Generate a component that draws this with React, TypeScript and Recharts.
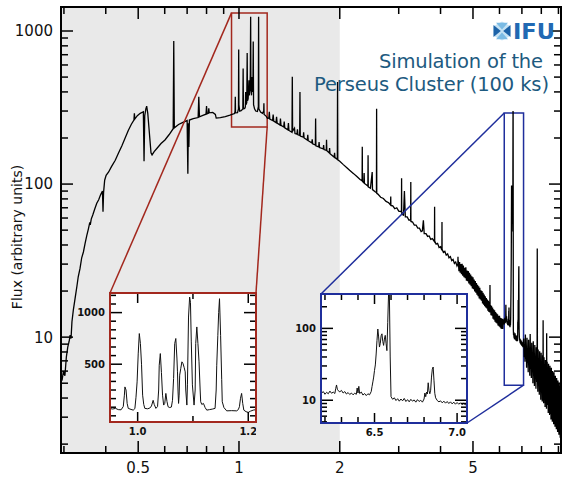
import React from 'react';
import { LineChart, Line, XAxis, YAxis, ReferenceArea, ReferenceLine } from 'recharts';

// main spectrum, [energy keV, flux]
const softBand: [number, number][] = [
  [0.296, 5.2], [0.299, 6.0], [0.302, 5.6], [0.305, 7.4], [0.308, 8.6], [0.311, 9.4], [0.313, 10.3],
  [0.315, 9.8], [0.317, 12.6], [0.32, 15], [0.324, 18], [0.328, 21.5], [0.331, 24.8], [0.335, 28],
  [0.339, 33], [0.343, 36], [0.347, 41], [0.351, 46], [0.355, 51], [0.358, 55.5], [0.36, 55],
  [0.362, 59], [0.366, 63], [0.371, 69], [0.376, 75], [0.381, 79], [0.386, 85], [0.391, 90],
  [0.3925, 66], [0.394, 88], [0.397, 106], [0.401, 114], [0.408, 120], [0.416, 130], [0.427, 143],
  [0.437, 160], [0.447, 178], [0.457, 200], [0.467, 224], [0.477, 246], [0.4855, 262], [0.487, 290],
  [0.4885, 266], [0.497, 280], [0.507, 290], [0.518, 297], [0.5205, 141], [0.523, 280], [0.527, 310],
  [0.53, 323], [0.534, 290], [0.54, 215], [0.546, 160], [0.55, 155], [0.558, 163], [0.57, 172],
  [0.585, 184], [0.601, 194], [0.618, 210], [0.636, 230], [0.6385, 862], [0.641, 233], [0.66, 245],
  [0.68, 253], [0.7, 260], [0.7035, 117], [0.706, 250], [0.7085, 175], [0.711, 262], [0.73, 268],
  [0.755, 272], [0.7585, 372], [0.762, 275], [0.78, 281], [0.797, 286], [0.8, 323], [0.803, 288],
  [0.81, 290], [0.8125, 313], [0.815, 292], [0.835, 294], [0.85, 285], [0.855, 270], [0.88, 272],
  [0.91, 276], [0.94, 282],
];

const feLBand: [number, number][] = [
  [0.953, 285], [0.97, 289], [0.9735, 300], [0.975, 372], [0.9765, 292], [0.99, 293], [0.9965, 310],
  [0.998, 758], [0.9995, 330], [1.005, 300], [1.015, 302], [1.027, 310], [1.029, 569], [1.031, 310],
  [1.04, 312], [1.045, 320], [1.047, 400], [1.049, 330], [1.055, 340], [1.058, 717], [1.0605, 350],
  [1.065, 360], [1.0685, 420], [1.071, 477], [1.073, 380], [1.078, 420], [1.081, 520], [1.0835, 1240],
  [1.0855, 420], [1.09, 380], [1.0935, 500], [1.096, 440], [1.1005, 400], [1.103, 853], [1.1055, 330],
  [1.113, 310], [1.122, 300], [1.135, 298], [1.1425, 320], [1.1445, 1240], [1.1465, 310], [1.16, 295],
  [1.175, 290], [1.1855, 300], [1.187, 337], [1.1885, 285], [1.205, 278], [1.215, 270],
];

const midBand: [number, number][] = [
  [1.22, 268], [1.228, 270], [1.232, 297], [1.236, 266], [1.26, 260], [1.265, 285], [1.27, 258],
  [1.29, 252], [1.295, 275], [1.3, 250], [1.326, 243], [1.33, 268], [1.335, 242], [1.36, 236],
  [1.365, 256], [1.37, 233], [1.4, 226], [1.405, 250], [1.41, 224], [1.44, 218], [1.443, 503],
  [1.446, 222], [1.465, 232], [1.47, 214], [1.49, 212], [1.495, 228], [1.5, 210], [1.518, 208],
  [1.521, 400], [1.524, 206], [1.556, 203], [1.56, 218], [1.565, 200], [1.6, 194], [1.605, 210],
  [1.61, 192], [1.65, 186], [1.655, 196], [1.66, 183], [1.691, 180], [1.694, 268], [1.697, 178],
  [1.73, 175], [1.735, 188], [1.74, 173], [1.785, 170], [1.79, 180], [1.795, 168], [1.823, 166],
  [1.826, 195], [1.83, 165], [1.86, 160], [1.865, 172], [1.87, 158], [1.925, 150], [1.93, 160],
  [1.935, 149], [1.967, 145], [1.97, 465], [1.973, 144], [2.0, 141], [2.05, 134], [2.1, 128],
  [2.14, 123], [2.2, 117], [2.25, 112], [2.3, 107], [2.332, 105], [2.335, 175], [2.338, 104],
  [2.36, 102], [2.365, 118], [2.37, 101], [2.4, 99], [2.427, 97], [2.43, 154], [2.433, 96],
  [2.47, 94], [2.5, 120], [2.505, 92], [2.55, 89], [2.574, 88], [2.577, 311], [2.58, 87],
  [2.6, 86], [2.65, 82], [2.7, 80.5], [2.75, 77], [2.8, 75.5], [2.837, 73], [2.84, 83], [2.843, 72.5],
  [2.88, 72], [2.92, 69], [2.96, 70], [3.0, 66.5], [3.057, 66], [3.06, 109], [3.063, 64], [3.08, 64.5],
  [3.1, 62], [3.12, 90], [3.14, 61], [3.18, 61], [3.22, 58], [3.257, 58.5], [3.26, 103], [3.263, 57],
  [3.3, 56.5], [3.34, 54], [3.38, 54], [3.42, 51.5], [3.46, 51.5], [3.5, 49], [3.53, 49.5],
  [3.555, 58], [3.575, 47.5], [3.62, 47.5], [3.66, 45.5], [3.7, 45.8], [3.74, 43.5], [3.78, 44],
  [3.837, 42], [3.84, 71], [3.843, 42.5], [3.88, 40.5], [3.92, 41], [3.96, 38.5], [4.0, 39],
  [4.037, 37], [4.04, 56.6], [4.043, 37.5], [4.08, 35.8], [4.12, 36.4], [4.16, 34.3], [4.2, 35],
  [4.24, 33], [4.28, 33.6], [4.32, 31.6], [4.36, 32.2], [4.4, 30.3], [4.44, 31], [4.48, 29.2],
  [4.507, 30], [4.51, 33.5], [4.513, 29.5],
  [4.52, 31.6], [4.54, 27.0], [4.56, 31.0], [4.58, 26.4], [4.6, 30.0], [4.62, 25.8], [4.64, 30.2],
  [4.66, 25.2], [4.68, 29.4], [4.7, 24.6], [4.72, 28.4], [4.74, 24.3], [4.76, 28.6], [4.78, 23.4],
  [4.8, 27.2], [4.82, 23.2], [4.84, 27.0], [4.86, 22.4], [4.88, 26.3], [4.9, 22.0], [4.92, 25.6],
  [4.94, 21.5], [4.96, 25.0], [4.98, 20.8], [5.0, 24.6], [5.02, 20.6], [5.04, 23.8], [5.06, 19.9],
  [5.08, 23.3], [5.1, 19.5], [5.12, 22.6], [5.14, 18.9], [5.16, 22.0], [5.18, 18.5], [5.2, 21.5],
  [5.22, 17.9], [5.24, 21.0], [5.26, 17.6], [5.28, 20.2], [5.3, 17.3], [5.32, 20.0], [5.34, 16.6],
  [5.36, 19.5], [5.38, 16.3], [5.4, 19.0], [5.42, 15.9], [5.44, 18.5], [5.46, 15.6], [5.48, 18.0],
  [5.5, 15.4], [5.52, 17.6], [5.54, 14.9], [5.56, 17.3], [5.58, 14.6], [5.6, 16.9], [5.615, 14.5],
  [5.62, 21.9], [5.625, 15.0], [5.64, 16.2], [5.66, 13.9], [5.68, 16.0], [5.7, 13.8], [5.72, 15.6],
  [5.74, 13.2], [5.76, 15.2], [5.78, 13.0], [5.8, 15.0], [5.82, 12.6], [5.84, 14.6], [5.86, 12.4],
  [5.88, 14.3], [5.9, 12.3], [5.92, 14.1], [5.94, 11.9], [5.96, 13.8], [5.98, 11.8], [6.0, 13.8],
  [6.02, 11.6], [6.04, 13.4], [6.06, 11.4], [6.08, 13.3], [6.1, 11.3], [6.12, 13.2], [6.14, 11.3],
  [6.16, 13.0],
];

// Fe K region, also drawn in the blue inset
const feKBand: [number, number][] = [
  [6.18, 12.6], [6.19, 13.2], [6.2, 12.1], [6.21, 12.9], [6.22, 12.3], [6.23, 13.4], [6.24, 12.5],
  [6.25, 13.0], [6.26, 12.4], [6.265, 14.5], [6.27, 16.3], [6.275, 14.2], [6.28, 13.6], [6.29, 13.1],
  [6.3, 13.7], [6.31, 12.6], [6.32, 13.2], [6.33, 12.2], [6.34, 12.8], [6.35, 12.0], [6.36, 12.6],
  [6.37, 11.9], [6.38, 12.5], [6.39, 12.1], [6.395, 14.8], [6.4, 12.6], [6.405, 15.6], [6.41, 12.4],
  [6.42, 13.0], [6.43, 11.8], [6.44, 12.4], [6.45, 11.6], [6.46, 12.3], [6.47, 11.9], [6.48, 13.2],
  [6.485, 15.5], [6.49, 18], [6.495, 21], [6.5, 26], [6.505, 31], [6.51, 44], [6.515, 68], [6.52, 98],
  [6.525, 76], [6.53, 55], [6.535, 62], [6.54, 79], [6.545, 84], [6.55, 66], [6.555, 58], [6.56, 71],
  [6.565, 80], [6.57, 62], [6.575, 49], [6.58, 120], [6.585, 300], [6.59, 295], [6.595, 40],
  [6.6, 11.2], [6.61, 10.3], [6.62, 10.8], [6.63, 9.9], [6.64, 10.5], [6.65, 9.7], [6.66, 10.4],
  [6.67, 9.8], [6.68, 10.6], [6.69, 9.6], [6.7, 10.2], [6.71, 9.5], [6.72, 10.3], [6.73, 9.7],
  [6.74, 10.1], [6.75, 9.4], [6.76, 10.2], [6.77, 9.6], [6.78, 10.0], [6.79, 9.4], [6.8, 10.4],
  [6.805, 12.6], [6.81, 11.2], [6.815, 13.0], [6.82, 12.2], [6.825, 17.5], [6.83, 13.5], [6.835, 12.3],
  [6.84, 13.8], [6.845, 21], [6.85, 27], [6.855, 29], [6.86, 19], [6.865, 12.5], [6.87, 10.8],
  [6.88, 9.9], [6.89, 9.5], [6.9, 9.8], [6.91, 9.2], [6.92, 9.7], [6.93, 9.1], [6.94, 9.6],
  [6.95, 9.0], [6.96, 9.5], [6.97, 8.9], [6.98, 9.4], [6.99, 8.8], [7.0, 9.3], [7.01, 8.8],
  [7.02, 9.2], [7.03, 8.7], [7.04, 9.1], [7.05, 8.6], [7.06, 9.0],
];

const tailBand: [number, number][] = [
  [7.09, 9.8], [7.11, 7.4], [7.13, 9.0], [7.15, 6.9], [7.17, 10.4], [7.19, 7.2], [7.21, 8.6],
  [7.23, 6.3], [7.25, 9.9], [7.27, 6.8], [7.29, 8.4], [7.31, 5.9], [7.33, 9.6], [7.35, 6.6],
  [7.37, 8.1], [7.39, 5.6], [7.41, 10.5], [7.43, 6.2], [7.45, 8.3], [7.47, 5.4], [7.49, 9.2],
  [7.51, 5.9], [7.53, 7.8], [7.55, 5.0], [7.57, 9.4], [7.59, 5.6], [7.61, 7.6], [7.63, 4.8],
  [7.65, 8.9], [7.67, 5.3], [7.69, 7.3], [7.71, 4.6], [7.73, 8.6], [7.75, 5.1], [7.77, 6.2],
  [7.78, 38], [7.79, 5.8], [7.81, 4.4], [7.83, 8.3], [7.85, 5.0], [7.87, 6.9], [7.89, 4.2],
  [7.91, 8.1], [7.93, 4.7], [7.95, 6.6], [7.97, 3.9], [7.99, 7.9], [8.01, 4.5], [8.03, 6.4],
  [8.05, 3.8], [8.07, 7.6], [8.09, 4.3], [8.1, 12.9], [8.11, 4.6], [8.13, 3.7], [8.15, 7.4],
  [8.17, 4.1], [8.19, 6.0], [8.21, 3.5], [8.23, 7.1], [8.25, 3.9], [8.27, 5.8], [8.29, 3.4],
  [8.3, 10.6], [8.31, 3.6], [8.33, 6.9], [8.35, 3.8], [8.37, 5.6], [8.39, 3.2], [8.41, 6.7],
  [8.43, 3.6], [8.45, 5.4], [8.47, 3.1], [8.49, 6.5], [8.51, 3.5], [8.53, 5.2], [8.55, 2.9],
  [8.57, 6.3], [8.59, 3.3], [8.61, 5.0], [8.63, 2.8], [8.65, 6.0], [8.67, 3.2], [8.69, 4.8],
  [8.71, 2.7], [8.73, 5.9], [8.75, 3.0], [8.77, 4.7], [8.79, 2.6], [8.81, 5.6], [8.83, 2.9],
  [8.85, 4.5], [8.87, 2.5], [8.89, 5.4], [8.91, 2.8], [8.93, 4.3], [8.95, 2.4], [8.97, 5.2],
  [8.99, 2.7], [9.01, 4.2], [9.03, 2.3], [9.05, 5.0], [9.07, 2.6], [9.09, 4.0], [9.11, 2.2],
  [9.13, 4.8], [9.15, 2.5], [9.16, 3.6],
];

// Fe L inset (counts, linear)
const feLInset: [number, number][] = [
  [0.95, 70], [0.955, 66], [0.96, 72], [0.965, 60], [0.97, 58], [0.974, 90], [0.976, 200], [0.977, 280],
  [0.979, 250], [0.981, 120], [0.983, 72], [0.988, 62], [0.992, 55], [0.995, 70], [0.997, 180],
  [0.999, 329], [1.001, 600], [1.003, 797], [1.005, 700], [1.007, 500], [1.009, 200], [1.011, 110],
  [1.013, 72], [1.018, 68], [1.022, 75], [1.025, 95], [1.028, 150], [1.03, 110], [1.033, 72],
  [1.036, 90], [1.038, 250], [1.039, 490], [1.041, 603], [1.043, 420], [1.045, 200], [1.047, 104],
  [1.049, 120], [1.051, 217], [1.053, 140], [1.055, 88], [1.058, 80], [1.061, 85], [1.063, 150],
  [1.065, 362], [1.067, 700], [1.069, 749], [1.071, 560], [1.072, 426], [1.073, 240], [1.074, 120],
  [1.075, 200], [1.076, 394], [1.078, 460], [1.08, 523], [1.082, 506], [1.084, 470], [1.086, 426],
  [1.087, 250], [1.089, 104], [1.09, 300], [1.092, 957], [1.094, 1151], [1.0955, 1100], [1.097, 716],
  [1.099, 300], [1.102, 104], [1.104, 250], [1.105, 700], [1.107, 861], [1.109, 700], [1.111, 523],
  [1.113, 250], [1.114, 136], [1.116, 110], [1.119, 120], [1.122, 80], [1.125, 55], [1.13, 60],
  [1.135, 65], [1.14, 72], [1.142, 250], [1.143, 490], [1.145, 780], [1.1465, 1000], [1.148, 1135],
  [1.15, 780], [1.152, 350], [1.153, 136], [1.156, 80], [1.161, 48], [1.17, 50], [1.179, 48],
  [1.182, 60], [1.184, 88], [1.186, 170], [1.188, 217], [1.19, 120], [1.192, 55], [1.196, 40],
  [1.2, 33], [1.204, 45], [1.209, 55], [1.214, 60],
];

const mainXTicks = [0.3, 0.4, 0.5, 0.6, 0.7, 0.8, 0.9, 1, 2, 3, 4, 5, 6, 7, 8, 9];
const mainXLabels = [0.5, 1, 2, 5];
const mainYTicks = [2, 3, 4, 5, 6, 7, 8, 9, 10, 20, 30, 40, 50, 60, 70, 80, 90, 100, 200, 300, 400, 500, 600, 700, 800, 900, 1000];
const mainYLabels = [10, 100, 1000];

const feLXTicks = [1.0, 1.1, 1.2];
const feLXLabels = [1.0, 1.2];
const feLYTicks = [0, 83.3, 166.7, 250, 333.3, 416.7, 500, 583.3, 666.7, 750, 833.3, 916.7, 1000, 1083.3, 1166.7];
const feLYLabels = [500, 1000];

const feKXTicks = [6.2, 6.3, 6.4, 6.5, 6.6, 6.7, 6.8, 6.9, 7.0];
const feKXLabels = [6.5, 7.0];
const feKYTicks = [5, 6, 7, 8, 9, 10, 20, 30, 40, 50, 60, 70, 80, 90, 100, 200, 300];
const feKYLabels = [10, 100];

const X_DOMAIN: [number, number] = [0.294, 9.16];
const Y_DOMAIN: [number, number] = [1.75, 1435];
const FEL_X: [number, number] = [0.95, 1.214];
const FEL_Y: [number, number] = [-60, 1190];
const FEK_X: [number, number] = [6.176, 7.06];
const FEK_Y: [number, number] = [4.82, 301];

const PLOT = { left: 61, top: 7, width: 500, height: 446 };
const RED_INSET = { left: 110, top: 293, width: 146, height: 129 };
const BLUE_INSET = { left: 321, top: 294, width: 146, height: 129 };

const RED = '#a3281e';
const BLUE = '#1f2e9c';
const FONT = 'DejaVu Sans';

const lg = Math.log10;
const pxToEnergy = (px: number) =>
  10 ** (lg(X_DOMAIN[0]) + ((px - PLOT.left) / PLOT.width) * (lg(X_DOMAIN[1]) - lg(X_DOMAIN[0])));
const pxToFlux = (py: number) =>
  10 ** (lg(Y_DOMAIN[0]) + ((PLOT.top + PLOT.height - py) / PLOT.height) * (lg(Y_DOMAIN[1]) - lg(Y_DOMAIN[0])));

const toRows = (pts: [number, number][]) => pts.map(([energy, flux]) => ({ energy, flux }));
const mainData = toRows([...softBand, ...feLBand, ...midBand, ...feKBand, ...tailBand]);

const has = (list: number[], v: number) => list.some((m) => Math.abs(m - v) < 1e-6);

interface TickOpts {
  labels: number[];
  majors: number[];
  span: number;
  majorLen: number;
  minorLen: number;
  fmt: (v: number) => string;
  fontSize: number;
  bold?: boolean;
  gap: number;
}

function bottomTick(o: TickOpts) {
  return (props: any) => {
    const { x, y, payload } = props;
    const v = payload.value;
    const len = has(o.majors, v) ? o.majorLen : o.minorLen;
    return (
      <g>
        <line x1={x} y1={y} x2={x} y2={y - len} stroke="#000" strokeWidth={1.5} />
        <line x1={x} y1={y - o.span} x2={x} y2={y - o.span + len} stroke="#000" strokeWidth={1.5} />
        {has(o.labels, v) && (
          <text x={x} y={y + o.gap} textAnchor="middle" fontFamily={FONT} fontSize={o.fontSize}
            fontWeight={o.bold ? 'bold' : 'normal'} fill="#111">
            {o.fmt(v)}
          </text>
        )}
      </g>
    );
  };
}

function leftTick(o: TickOpts) {
  return (props: any) => {
    const { x, y, payload } = props;
    const v = payload.value;
    const len = has(o.majors, v) ? o.majorLen : o.minorLen;
    return (
      <g>
        <line x1={x} y1={y} x2={x + len} y2={y} stroke="#000" strokeWidth={1.5} />
        <line x1={x + o.span} y1={y} x2={x + o.span - len} y2={y} stroke="#000" strokeWidth={1.5} />
        {has(o.labels, v) && (
          <text x={x - o.gap} y={y} dy="0.36em" textAnchor="end" fontFamily={FONT} fontSize={o.fontSize}
            fontWeight={o.bold ? 'bold' : 'normal'} fill="#111">
            {o.fmt(v)}
          </text>
        )}
      </g>
    );
  };
}

function Frame({ box, color, w }: { box: { left: number; top: number; width: number; height: number }; color: string; w: number }) {
  return (
    <div
      style={{
        position: 'absolute',
        left: box.left - w / 2,
        top: box.top - w / 2,
        width: box.width + w,
        height: box.height + w,
        border: `${w}px solid ${color}`,
        boxSizing: 'border-box',
        pointerEvents: 'none',
      }}
    />
  );
}

function Inset({ box, data, xDomain, yDomain, logY, xTicks, xLabels, yTicks, yLabels, yMajors }: any) {
  const padL = 45;
  const padB = 18;
  return (
    <>
      <div style={{ position: 'absolute', left: box.left, top: box.top, width: box.width, height: box.height, background: '#fff' }} />
      <div style={{ position: 'absolute', left: box.left - padL, top: box.top }}>
        <LineChart width={box.width + padL} height={box.height + padB} data={toRows(data)}
          margin={{ top: 0, right: 0, bottom: 0, left: 0 }}>
          <XAxis dataKey="energy" type="number" domain={xDomain} allowDataOverflow ticks={xTicks} interval={0}
            height={padB} axisLine={false} tickLine={false} tickSize={0} tickMargin={0}
            tick={bottomTick({ labels: xLabels, majors: xLabels, span: box.height, majorLen: 10, minorLen: 6,
              fmt: (v) => v.toFixed(1), fontSize: 10, bold: true, gap: 13 })} />
          <YAxis type="number" scale={logY ? 'log' : 'linear'} domain={yDomain} allowDataOverflow ticks={yTicks}
            interval={0} width={padL} axisLine={false} tickLine={false} tickSize={0} tickMargin={0}
            tick={leftTick({ labels: yLabels, majors: yMajors, span: box.width, majorLen: 12, minorLen: 6,
              fmt: (v) => String(v), fontSize: 10, bold: true, gap: 5 })} />
          <Line type="linear" dataKey="flux" stroke="#111" strokeWidth={1} dot={false} isAnimationActive={false} />
        </LineChart>
      </div>
    </>
  );
}

export default function App() {
  const redA = { x: pxToEnergy(RED_INSET.left), y: pxToFlux(RED_INSET.top) };
  const redB = { x: pxToEnergy(RED_INSET.left + RED_INSET.width), y: pxToFlux(RED_INSET.top) };
  const blueA = { x: pxToEnergy(BLUE_INSET.left), y: pxToFlux(BLUE_INSET.top) };
  const blueB = { x: pxToEnergy(BLUE_INSET.left + BLUE_INSET.width), y: pxToFlux(BLUE_INSET.top + BLUE_INSET.height) };

  return (
    <div style={{ position: 'absolute', left: 0, top: 0, width: 567, height: 477, background: '#fff' }}>
      <LineChart width={567} height={477} data={mainData} margin={{ top: PLOT.top, right: 6, bottom: 0, left: 0 }}>
        <XAxis dataKey="energy" type="number" scale="log" domain={X_DOMAIN} allowDataOverflow ticks={mainXTicks}
          interval={0} height={24} axisLine={false} tickLine={false} tickSize={0} tickMargin={0}
          tick={bottomTick({ labels: mainXLabels, majors: mainXLabels, span: PLOT.height, majorLen: 12, minorLen: 7,
            fmt: (v) => String(v), fontSize: 15, gap: 20 })} />
        <YAxis type="number" scale="log" domain={Y_DOMAIN} allowDataOverflow ticks={mainYTicks} interval={0}
          width={PLOT.left} axisLine={false} tickLine={false} tickSize={0} tickMargin={0}
          tick={leftTick({ labels: mainYLabels, majors: mainYLabels, span: PLOT.width, majorLen: 12, minorLen: 7,
            fmt: (v) => String(v), fontSize: 15, gap: 8 })} />
        <ReferenceArea x1={X_DOMAIN[0]} x2={2} fill="#e9e9e9" fillOpacity={1} stroke="none" />
        <Line type="linear" dataKey="flux" stroke="#000" strokeWidth={1.3} dot={false} isAnimationActive={false} />
        <ReferenceArea x1={FEL_X[0]} x2={FEL_X[1]} y1={236} y2={1313} fill="none" stroke={RED} strokeWidth={1.5} />
        <ReferenceArea x1={6.2} x2={7.08} y1={4.85} y2={291} fill="none" stroke={BLUE} strokeWidth={1.5} />
        <ReferenceLine segment={[{ x: FEL_X[0], y: 1313 }, redA]} stroke={RED} strokeWidth={1.5} />
        <ReferenceLine segment={[{ x: FEL_X[1], y: 236 }, redB]} stroke={RED} strokeWidth={1.5} />
        <ReferenceLine segment={[{ x: 6.2, y: 291 }, blueA]} stroke={BLUE} strokeWidth={1.5} />
        <ReferenceLine segment={[{ x: 7.08, y: 4.85 }, blueB]} stroke={BLUE} strokeWidth={1.5} />
      </LineChart>
      <Frame box={PLOT} color="#000" w={2} />

      <svg width={567} height={477} style={{ position: 'absolute', left: 0, top: 0, pointerEvents: 'none' }}>
        <text transform="translate(17,237) rotate(-90)" textAnchor="middle" dy="0.35em" fontFamily={FONT}
          fontSize={14} fill="#111">
          Flux (arbitrary units)
        </text>
        <text x={543} y={68} textAnchor="end" fontFamily={FONT} fontSize={19.5} fill="#1d5a80"
          textLength={164} lengthAdjust="spacing">Simulation of the</text>
        <text x={549} y={91} textAnchor="end" fontFamily={FONT} fontSize={19.5} fill="#1d5a80"
          textLength={235} lengthAdjust="spacing">Perseus Cluster (100 ks)</text>
        <g>
          <polygon points="502,21.5 510.5,26.3 510.5,35.7 502,40.5 493.5,35.7 493.5,26.3" fill="#c4e2f4" />
          <polygon points="496,22.8 508,22.8 502,29.5" fill="#7bbbe4" />
          <polygon points="496,39.2 508,39.2 502,32.5" fill="#7bbbe4" />
          <polygon points="493.5,25 493.5,37 500.8,31" fill="#1d63a8" />
          <polygon points="510.5,25 510.5,37 503.2,31" fill="#1d63a8" />
        </g>
        <text x={513} y={39} fontFamily={FONT} fontSize={21} fontWeight="bold" fill="#2169b3" textLength={42}
          lengthAdjust="spacingAndGlyphs">IFU</text>
      </svg>

      <Inset box={RED_INSET} data={feLInset} xDomain={FEL_X} yDomain={FEL_Y} logY={false}
        xTicks={feLXTicks} xLabels={feLXLabels} yTicks={feLYTicks} yLabels={feLYLabels} yMajors={feLYLabels} />
      <Frame box={RED_INSET} color={RED} w={2} />
      <Inset box={BLUE_INSET} data={feKBand} xDomain={FEK_X} yDomain={FEK_Y} logY
        xTicks={feKXTicks} xLabels={feKXLabels} yTicks={feKYTicks} yLabels={feKYLabels} yMajors={feKYLabels} />
      <Frame box={BLUE_INSET} color={BLUE} w={2} />
    </div>
  );
}
